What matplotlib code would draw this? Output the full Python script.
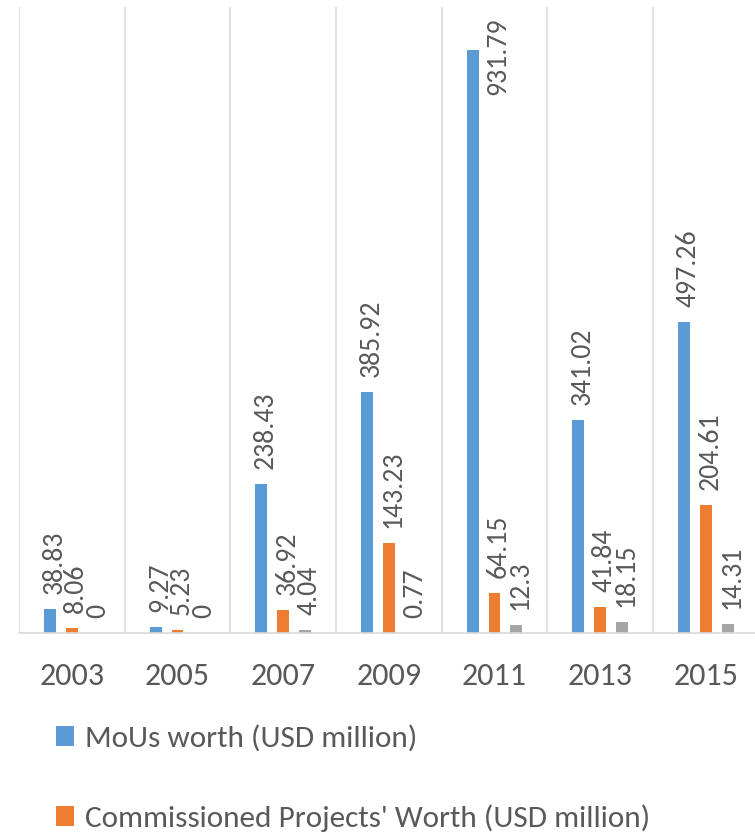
import numpy as np
import matplotlib
matplotlib.use("Agg")
import matplotlib.pyplot as plt

years = ['2003', '2005', '2007', '2009', '2011', '2013', '2015']
mous_worth = [38.83, 9.27, 238.43, 385.92, 931.79, 341.02, 497.26]
commissioned_worth = [8.06, 5.23, 36.92, 143.23, 64.15, 41.84, 204.61]
third_series = [0, 0, 4.04, 0.77, 12.3, 18.15, 14.31]

series_names = ['MoUs worth (USD million)', "Commissioned Projects' Worth (USD million)", None]
colors = ['#5B9BD5', '#ED7D31', '#A5A5A5']
text_color = '#595959'
grid_color = '#D9D9D9'

fig = plt.figure(figsize=(7.55, 8.35), dpi=100)
W, H = 755, 835
ax = fig.add_axes([19 / W, (H - 633) / H, 739.7 / W, (633 - 7.3) / H])

x = np.arange(len(years))
offsets = [-0.207, 0.0, 0.207]
bar_w = 0.112
ymax = 1000

for vals, off, col, name in zip([mous_worth, commissioned_worth, third_series], offsets, colors, series_names):
    ax.bar(x + off, vals, width=bar_w, color=col, label=name, zorder=2)
    for xi, v in zip(x + off, vals):
        lbl = f"{v:g}"
        if v > 0.85 * ymax:
            # label would run past the top: pull it back inside, next to the bar
            ax.annotate(lbl, xy=(xi, ymax), xytext=(25, -10), textcoords='offset pixels',
                        rotation=90, ha='center', va='top', fontsize=20,
                        family='Carlito', color=text_color)
        else:
            ax.annotate(lbl, xy=(xi, v), xytext=(4, 15), textcoords='offset pixels',
                        rotation=90, ha='center', va='bottom', fontsize=20,
                        family='Carlito', color=text_color)

ax.set_xlim(-0.5, len(years) - 0.5)
ax.set_ylim(0, ymax)
ax.set_xticks(x)
ax.set_xticklabels(years, family='Carlito', fontsize=23, color=text_color)
ax.set_xticks(np.arange(-0.5, len(years)), minor=True)
ax.tick_params(axis='x', which='both', length=0, pad=21)
ax.set_yticks([])
ax.grid(which='minor', axis='x', color=grid_color, linewidth=1.1, zorder=0)
for side in ['left', 'right', 'top']:
    ax.spines[side].set_visible(False)
ax.spines['bottom'].set_color(grid_color)
ax.spines['bottom'].set_linewidth(1.2)

handles, labels = ax.get_legend_handles_labels()
fig.legend(handles, labels, loc='upper left', bbox_to_anchor=(56 / W, 1 - 725 / H),
           frameon=False, ncol=1, prop={'family': 'Carlito', 'size': 22.5},
           labelcolor=text_color, handlelength=0.58, handleheight=0.58,
           handletextpad=0.36, labelspacing=1.68, borderaxespad=0, borderpad=0)

fig.savefig('out.png', dpi=100)
